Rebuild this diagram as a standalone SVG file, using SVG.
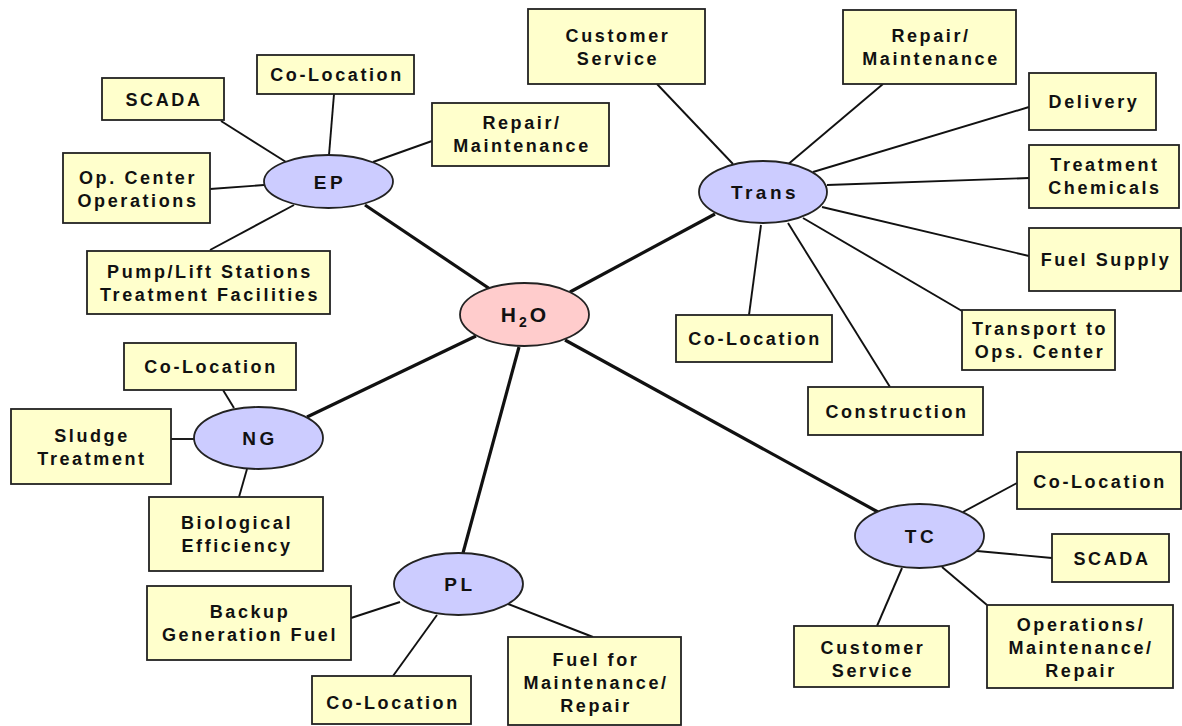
<svg xmlns="http://www.w3.org/2000/svg" width="1182" height="726" viewBox="0 0 1182 726">
<style>
.box{fill:#ffffcc;stroke:#222;stroke-width:1.8}
.hub{fill:#ccccff;stroke:#222;stroke-width:1.8}
.center{fill:#ffcccc;stroke:#222;stroke-width:1.8}
text{font-family:"Liberation Sans",Arial,sans-serif;font-weight:bold;font-size:18px;fill:#111;letter-spacing:2.6px;text-anchor:middle}
.big{font-size:19px;letter-spacing:3.5px}
.h2o{font-size:21px;letter-spacing:3px}
.thin{stroke:#111;stroke-width:1.9;fill:none}
.thick{stroke:#111;stroke-width:3.2;fill:none}
</style>
<rect width="1182" height="726" fill="#fff"/>
<g id="connectors">
<line class="thick" x1="365" y1="205" x2="490" y2="289"/>
<line class="thick" x1="570" y1="292" x2="715" y2="214"/>
<line class="thick" x1="476" y1="336" x2="307" y2="417"/>
<line class="thick" x1="519" y1="347" x2="463" y2="553"/>
<line class="thick" x1="565" y1="340" x2="878" y2="512"/>
<line class="thin" x1="221" y1="121" x2="286" y2="162"/>
<line class="thin" x1="334" y1="94" x2="329" y2="155"/>
<line class="thin" x1="432" y1="141" x2="373" y2="162"/>
<line class="thin" x1="210" y1="189" x2="264" y2="185"/>
<line class="thin" x1="210" y1="250" x2="294" y2="205"/>
<line class="thin" x1="657" y1="84" x2="733" y2="164"/>
<line class="thin" x1="883" y1="84" x2="786" y2="166"/>
<line class="thin" x1="813" y1="172" x2="1029" y2="107"/>
<line class="thin" x1="827" y1="185" x2="1029" y2="178"/>
<line class="thin" x1="822" y1="207" x2="1029" y2="256"/>
<line class="thin" x1="803" y1="218" x2="962" y2="311"/>
<line class="thin" x1="788" y1="223" x2="890" y2="387"/>
<line class="thin" x1="761" y1="225" x2="749" y2="315"/>
<line class="thin" x1="223" y1="390" x2="234" y2="408"/>
<line class="thin" x1="171" y1="439" x2="194" y2="439"/>
<line class="thin" x1="247" y1="469" x2="239" y2="497"/>
<line class="thin" x1="351" y1="618" x2="400" y2="602"/>
<line class="thin" x1="437" y1="615" x2="393" y2="676"/>
<line class="thin" x1="508" y1="604" x2="593" y2="637"/>
<line class="thin" x1="963" y1="512" x2="1017" y2="483"/>
<line class="thin" x1="977" y1="551" x2="1052" y2="558"/>
<line class="thin" x1="902" y1="568" x2="877" y2="626"/>
<line class="thin" x1="942" y1="567" x2="987" y2="605"/>
</g>
<g id="h2o"><ellipse class="center" cx="524.5" cy="314.5" rx="64.5" ry="31.5"/><text class="h2o" x="525" y="322">H<tspan font-size="14" dy="5">2</tspan><tspan dy="-5">O</tspan></text></g>
<g id="ep"><ellipse class="hub" cx="328.5" cy="181.5" rx="64.5" ry="26.5"/><text class="big" x="330" y="188.5">EP</text></g>
<g id="trans"><ellipse class="hub" cx="763" cy="192" rx="64" ry="31"/><text class="big" x="765" y="199">Trans</text></g>
<g id="ng"><ellipse class="hub" cx="258.5" cy="438" rx="64.5" ry="31"/><text class="big" x="260" y="445">NG</text></g>
<g id="pl"><ellipse class="hub" cx="458.5" cy="584" rx="64.5" ry="31"/><text class="big" x="460" y="591">PL</text></g>
<g id="tc"><ellipse class="hub" cx="919.5" cy="536" rx="64.5" ry="32"/><text class="big" x="921" y="543">TC</text></g>

<g id="ep-scada"><rect class="box" x="102" y="78" width="122" height="42"/><text x="164" y="106">SCADA</text></g>
<g id="ep-coloc"><rect class="box" x="257" y="55" width="157" height="39"/><text x="337" y="81">Co-Location</text></g>
<g id="ep-repair"><rect class="box" x="432" y="103" width="177" height="63"/><text x="522" y="129">Repair/</text><text x="522" y="152">Maintenance</text></g>
<g id="ep-opcenter"><rect class="box" x="63" y="153" width="147" height="70"/><text x="138" y="184">Op. Center</text><text x="138" y="207">Operations</text></g>
<g id="ep-pump"><rect class="box" x="87" y="251" width="243" height="63"/><text x="210" y="278">Pump/Lift Stations</text><text x="210" y="301">Treatment Facilities</text></g>

<g id="trans-cust"><rect class="box" x="528" y="9" width="177" height="75"/><text x="618" y="42">Customer</text><text x="618" y="65">Service</text></g>
<g id="trans-repair"><rect class="box" x="843" y="10" width="173" height="74"/><text x="931" y="42">Repair/</text><text x="931" y="65">Maintenance</text></g>
<g id="trans-delivery"><rect class="box" x="1029" y="73" width="127" height="57"/><text x="1094" y="108">Delivery</text></g>
<g id="trans-chem"><rect class="box" x="1029" y="145" width="150" height="63"/><text x="1105" y="171">Treatment</text><text x="1105" y="194">Chemicals</text></g>
<g id="trans-fuel"><rect class="box" x="1029" y="228" width="152" height="63"/><text x="1106" y="266">Fuel Supply</text></g>
<g id="trans-transport"><rect class="box" x="962" y="310" width="153" height="60"/><text x="1040" y="335">Transport to</text><text x="1040" y="358">Ops. Center</text></g>
<g id="trans-construction"><rect class="box" x="808" y="387" width="175" height="48"/><text x="897" y="418">Construction</text></g>
<g id="trans-coloc"><rect class="box" x="676" y="315" width="156" height="47"/><text x="755" y="345">Co-Location</text></g>

<g id="ng-coloc"><rect class="box" x="124" y="343" width="172" height="47"/><text x="211" y="373">Co-Location</text></g>
<g id="ng-sludge"><rect class="box" x="11" y="409" width="160" height="75"/><text x="92" y="442">Sludge</text><text x="92" y="465">Treatment</text></g>
<g id="ng-bio"><rect class="box" x="149" y="497" width="174" height="74"/><text x="237" y="529">Biological</text><text x="237" y="552">Efficiency</text></g>

<g id="pl-backup"><rect class="box" x="147" y="586" width="204" height="74"/><text x="250" y="618">Backup</text><text x="250" y="641">Generation Fuel</text></g>
<g id="pl-coloc"><rect class="box" x="312" y="676" width="159" height="48"/><text x="393" y="709">Co-Location</text></g>
<g id="pl-fuel"><rect class="box" x="508" y="637" width="173" height="88"/><text x="596" y="666">Fuel for</text><text x="596" y="689">Maintenance/</text><text x="596" y="712">Repair</text></g>

<g id="tc-coloc"><rect class="box" x="1017" y="452" width="164" height="57"/><text x="1100" y="488">Co-Location</text></g>
<g id="tc-scada"><rect class="box" x="1052" y="534" width="117" height="48"/><text x="1112" y="565">SCADA</text></g>
<g id="tc-cust"><rect class="box" x="794" y="626" width="155" height="61"/><text x="873" y="654">Customer</text><text x="873" y="677">Service</text></g>
<g id="tc-ops"><rect class="box" x="987" y="605" width="186" height="83"/><text x="1081" y="631">Operations/</text><text x="1081" y="654">Maintenance/</text><text x="1081" y="677">Repair</text></g>
</svg>
